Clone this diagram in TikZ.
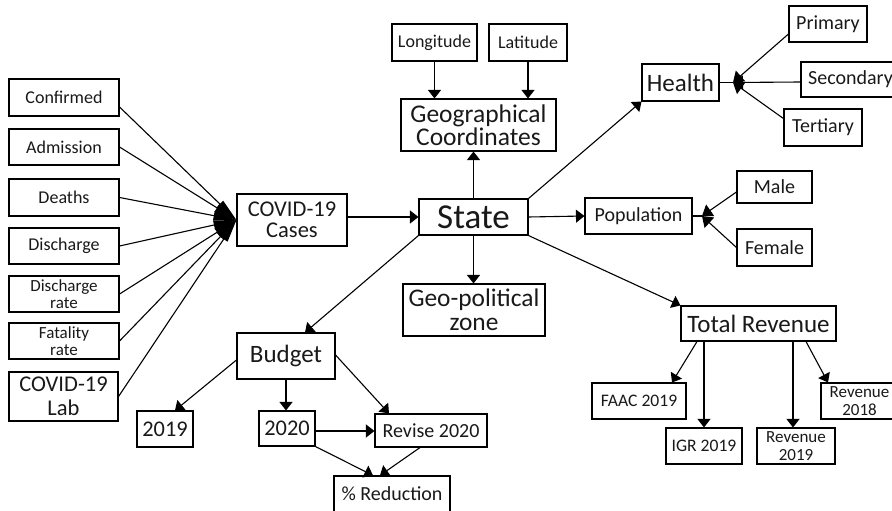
\documentclass[tikz,border=0pt]{standalone}
\usepackage{fontspec}
\setmainfont{Carlito}
\usetikzlibrary{arrows.meta}
\tikzset{
  bx/.style={draw, line width=1.1pt, inner sep=0pt, align=center, text=black!90},
  arr/.style={-{Triangle[length=8.5pt,width=13pt]}, line width=1.1pt},
  jarr/.style={-{Triangle[length=10pt,width=14pt]}, line width=1.1pt},
  fan/.style={-{Triangle[length=23pt,width=9pt]}, line width=1.1pt},
  plain/.style={line width=1.1pt},
}
\newcommand{\fsz}[2]{\fontsize{#1}{#2}\selectfont}
\begin{document}
\begin{tikzpicture}[x=1pt,y=-1pt]
\useasboundingbox (0,0) rectangle (892,511);
\clip (0,0) rectangle (892,511);
% left column
\node[bx, minimum width=110pt, minimum height=37pt, font=\fsz{18}{20}] (conf) at (64,97.5) {Confirmed};
\node[bx, minimum width=110pt, minimum height=36pt, font=\fsz{18}{20}] (adm) at (64,147) {Admission};
\node[bx, minimum width=110pt, minimum height=37pt, font=\fsz{18}{20}] (dea) at (64,197.5) {Deaths};
\node[bx, minimum width=110pt, minimum height=36pt, font=\fsz{18}{20}] (dis) at (64,246) {Discharge};
\node[bx, minimum width=110pt, minimum height=36pt, font=\fsz{17}{17.5}] (disr) at (64,294) {Discharge\\rate};
\node[bx, minimum width=110pt, minimum height=36pt, font=\fsz{17}{17.5}] (fat) at (64,341) {Fatality\\rate};
\node[bx, minimum width=109pt, minimum height=49pt, font=\fsz{22.5}{24}] (lab) at (63.5,396.5) {COVID-19\\Lab};
% center
\node[bx, minimum width=110pt, minimum height=52pt, font=\fsz{22.5}{21}] (cases) at (292,220) {COVID-19\\Cases};
\node[bx, minimum width=109pt, minimum height=36pt, font=\fsz{35}{36}] (state) at (473.5,217) {State};
\node[bx, minimum width=155pt, minimum height=52pt, font=\fsz{25.5}{23}] (geo) at (478.5,125) {Geographical\\Coordinates};
\node[bx, minimum width=85pt, minimum height=37pt, font=\fsz{18}{20}] (lon) at (434.5,42.5) {Longitude};
\node[bx, minimum width=78pt, minimum height=37pt, font=\fsz{18}{20}] (lat) at (528,42.5) {Latitude};
\node[bx, minimum width=142pt, minimum height=52pt, font=\fsz{25.4}{24}] (gpz) at (474,310) {Geo-political\\zone};
% right top
\node[bx, minimum width=77pt, minimum height=37pt, font=\fsz{25}{26}] (health) at (680.5,82.5) {Health};
\node[bx, minimum width=78pt, minimum height=36pt, font=\fsz{20}{22}] (prim) at (828,24) {Primary};
\node[bx, minimum width=99pt, minimum height=35pt, font=\fsz{20}{22}] (sec) at (850.5,79.5) {Secondary};
\node[bx, minimum width=78pt, minimum height=37pt, font=\fsz{20}{22}] (tert) at (823,127.5) {Tertiary};
\node[bx, minimum width=107pt, minimum height=36pt, font=\fsz{20}{22}] (pop) at (638.5,216) {Population};
\node[bx, minimum width=75pt, minimum height=32pt, font=\fsz{20}{22}] (male) at (774.5,187) {Male};
\node[bx, minimum width=75pt, minimum height=37pt, font=\fsz{20}{22}] (fem) at (774.5,247.5) {Female};
% revenue
\node[bx, minimum width=155pt, minimum height=35pt, font=\fsz{25}{26}] (tr) at (758.5,323.5) {Total Revenue};
\node[bx, minimum width=94pt, minimum height=36pt, font=\fsz{17.6}{20}] (faac) at (639,401) {FAAC 2019};
\node[bx, minimum width=76pt, minimum height=36pt, font=\fsz{17.6}{20}] (igr) at (704,446) {IGR 2019};
\node[bx, minimum width=78pt, minimum height=36pt, font=\fsz{17}{17.5}] (r19) at (796,446) {Revenue\\2019};
\node[bx, minimum width=77pt, minimum height=36pt, font=\fsz{17}{17.5}] (r18) at (859.5,401) {Revenue\\2018};
% budget
\node[bx, minimum width=98pt, minimum height=46pt, font=\fsz{25}{26}] (budget) at (286,356) {Budget};
\node[bx, minimum width=56pt, minimum height=36pt, font=\fsz{22.4}{24}] (b19) at (165,429) {2019};
\node[bx, minimum width=56pt, minimum height=35pt, font=\fsz{22.4}{24}] (b20) at (287,428.5) {2020};
\node[bx, minimum width=112pt, minimum height=33pt, font=\fsz{20}{22}] (rev) at (431,430.5) {Revise 2020};
\node[bx, minimum width=116pt, minimum height=36pt, font=\fsz{20}{22}] (red) at (392,494) {\% Reduction};
% fan into COVID-19 Cases
\draw[fan] ([yshift=-9.5pt]conf.east) -- (cases.west);
\draw[fan] (adm.east) -- (cases.west);
\draw[fan] (dea.east) -- (cases.west);
\draw[fan] (dis.east) -- (cases.west);
\draw[fan] (disr.east) -- (cases.west);
\draw[fan] (fat.east) -- (cases.west);
\draw[fan] (lab.east) -- (cases.west);
% state connections
\draw[arr] (cases.east |- state.west) -- (state.west);
\draw[arr] (state.north) -- (state.north |- geo.south);
\draw[arr] (lon.south) -- (lon.south |- geo.north);
\draw[arr] (lat.south) -- (lat.south |- geo.north);
\draw[arr] (state.north east) -- (health.south west);
\draw[arr] (state.east) -- (pop.west);
\draw[arr] (state.south east) -- (tr.north west);
\draw[arr] (state.south) -- (state.south |- gpz.north);
\draw[arr] (state.south west) -- ([xshift=19pt]budget.north);
% health junction
\coordinate (hj) at (733,82.5);
\draw[plain] (health.east) -- (hj);
\draw[jarr] ([yshift=-10pt]prim.west) -- (hj);
\draw[jarr] ([yshift=-2.5pt]sec.west) -- (hj);
\draw[jarr] ([yshift=9pt]tert.west) -- (hj);
% population junction
\coordinate (pj) at (702,216);
\draw[plain] (pop.east) -- (pj);
\draw[jarr] ([yshift=-5pt]male.west) -- (pj);
\draw[jarr] (fem.west) -- (pj);
% revenue
\draw[arr] ([xshift=-61.5pt]tr.south) -- ([xshift=33pt]faac.north);
\draw[arr] ([xshift=-54.5pt]tr.south) -- (igr.north);
\draw[arr] ([xshift=34.5pt]tr.south) -- ([xshift=-3pt]r19.north);
\draw[arr] ([xshift=47.5pt]tr.south) -- ([xshift=-31.5pt]r18.north);
% budget
\draw[arr] ([yshift=-4pt]budget.west) -- ([xshift=10pt]b19.north);
\draw[arr] (budget.south) -- (budget.south |- b20.north);
\draw[arr] ([yshift=1pt]budget.east) -- ([xshift=-42pt]rev.north);
\draw[arr] ([yshift=-2.5pt]b20.east) -- ([yshift=-2.5pt]b20.east -| rev.west);
\draw[arr] (b20.south east) -- ([xshift=-19pt]red.north);
\draw[arr] ([xshift=-11pt]rev.south) -- ([xshift=-12pt]red.north);
\end{tikzpicture}
\end{document}
